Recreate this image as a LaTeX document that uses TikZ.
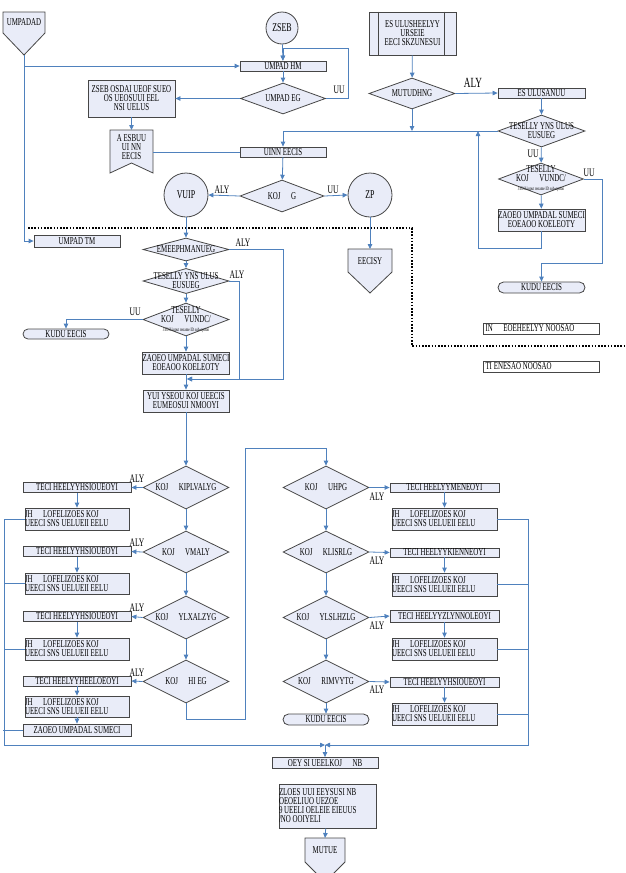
\documentclass[tikz,border=0pt]{standalone}
\usepackage{fontspec}
\setmainfont{Liberation Serif}[FakeStretch=0.66]
\usetikzlibrary{shapes.geometric,shapes.misc,arrows.meta}

\definecolor{boxfill}{RGB}{233,236,248}
\definecolor{flowblue}{RGB}{79,129,189}
\definecolor{edge}{RGB}{70,70,70}

\tikzset{
  proc/.style={draw=edge, fill=boxfill, line width=0.8pt, inner sep=0pt,
    align=center, font=\fontsize{10.5}{9}\selectfont},
  procL/.style={proc, align=flush left, text width=#1},
  decide/.style={diamond, draw=edge, fill=boxfill, line width=0.8pt, inner sep=-6pt,
    aspect=2.5, align=center, font=\fontsize{10.5}{9}\selectfont},
  term/.style={rounded rectangle, draw=edge, fill=boxfill, line width=0.8pt,
    inner sep=0pt, font=\fontsize{10.5}{9}\selectfont},
  conn/.style={circle, draw=edge, fill=boxfill, line width=0.8pt, inner sep=0pt,
    font=\fontsize{12}{10}\selectfont},
  outline/.style={draw=edge, fill=boxfill, line width=0.8pt, line join=miter},
  inside/.style={inner sep=0pt, align=center, font=\fontsize{10.5}{9}\selectfont},
  legend/.style={draw=edge, fill=white, line width=0.8pt, inner sep=2pt,
    text width=112pt, align=flush left, font=\fontsize{10.5}{9}\selectfont},
  flow/.style={->, draw=flowblue, line width=0.8pt},
  lbl/.style={inner sep=0pt, font=\fontsize{11.5}{9}\selectfont},
  dotline/.style={line width=1.3pt, dash pattern=on 1.6pt off 1.6pt},
  tiny3/.style={font=\fontsize{4}{4}\selectfont}
}

\begin{document}
\begin{tikzpicture}[x=1pt,y=-1pt,>={Triangle[length=5pt,width=4.5pt]}]
  \useasboundingbox (0,0) rectangle (625,873);

  % upper part
  \draw[outline] (3,12) -- (45,12) -- (45,33) -- (24,55) -- (3,33) -- cycle;
  \node[inside] (inA) at (24,22.5) {UMPADAD};
  \coordinate (inAtip) at (24,55);
  \node[conn, minimum size=32pt] (zseb) at (282,28) {ZSEB};
  \node[proc, minimum width=86pt, minimum height=10pt] (hm) at (283,66) {UMPAD HM};
  \node[decide, minimum width=85pt, minimum height=31pt] (eg) at (283,98.5) {UMPAD EG};
  \node[proc, minimum width=87pt, minimum height=37pt] (osda) at (131.5,98.5)
    {ZSEB OSDAI UEOF SUEO\\OS UEOSUUI EEL\\NSI UELUS};
  \draw[outline] (110,130) -- (153,130) -- (153,173) -- (131.5,163) -- (110,173) -- cycle;
  \node[inside] (doc) at (131.5,147) {A ESBUU\\UI NN\\EECIS};
  \coordinate (docTop) at (131.5,130);
  \coordinate (docSide) at (153,152);
  \node[proc, minimum width=86pt, minimum height=10pt] (uinn) at (283,152) {UINN EECIS};
  \node[decide, minimum width=84pt, minimum height=32pt] (kojg) at (282,196) {KOJ\quad G};
  \node[conn, minimum size=44pt] (vuip) at (186,195) {VUIP};
  \node[conn, minimum size=44pt] (zp) at (370,195) {ZP};
  \draw[outline] (348,249) -- (392,249) -- (392,272) -- (370,293) -- (348,272) -- cycle;
  \node[inside] (eecisy) at (370,261) {EECISY};
  \coordinate (eecisyTop) at (370,249);
  \node[lbl] (lbA) at (222,190) {ALY};
  \node[lbl] (lbB) at (333,190) {UU};
  \node[lbl] (lbC) at (339,90) {UU};

  % upper right
  \node[proc, minimum width=87pt, minimum height=43pt] (estop) at (412.5,33.5)
    {ES ULUSHEELYY\\URSEIE\\EECI SKZUNESUI};
  \draw[edge, line width=0.8pt] ([xshift=10pt]estop.north west) -- ([xshift=10pt]estop.south west)
    ([xshift=-12pt]estop.north east) -- ([xshift=-12pt]estop.south east);
  \node[decide, minimum width=86pt, minimum height=31pt] (mutud) at (412,93.5) {MUTUDHNG};
  \node[lbl, font=\fontsize{14}{11}\selectfont] (lbD) at (473,83) {ALY};
  \node[proc, minimum width=87pt, minimum height=10pt] (esanuu) at (541.5,93) {ES ULUSANUU};
  \node[decide, minimum width=87pt, minimum height=32pt] (teselR) at (541.5,131)
    {TESELLY YNS ULUS\\EUSUEG};
  \node[lbl] (lbE) at (533,154) {UU};
  \node[decide, minimum width=85pt, minimum height=32pt] (teselRR) at (541,179)
    {TESELLY\\KOJ\quad VUNDC/\\{\tiny3 ENS input rename ID sub-option}};
  \node[lbl] (lbF) at (589,173) {UU};
  \node[proc, minimum width=87pt, minimum height=22pt] (zaoeoR) at (541.5,220)
    {ZAOEO UMPADAL SUMECI\\EOEAOO KOELEOTY};
  \node[term, minimum width=87pt, minimum height=11pt] (kuduR) at (541.5,287.5) {KUDU EECIS};
  \coordinate (joinR) at (478,131);
  \node[legend] (lgA) at (541.5,328.5) {IN\quad EOEHEELYY NOOSAO};
  \node[legend] (lgB) at (541.5,366.5) {TI ENESAO NOOSAO};

  \draw[dotline] (28,228) -- (412,228) -- (412,346) -- (625,346);

  % middle left
  \node[proc, minimum width=86pt, minimum height=12pt] (umpadtm) at (77,241) {UMPAD TM};
  \node[decide, minimum width=86pt, minimum height=23pt] (emee) at (186,249.5) {EMEEPHMANUEG};
  \node[lbl] (lbG) at (243,243) {ALY};
  \node[decide, minimum width=86pt, minimum height=23pt] (tesel) at (186,281) {TESELLY YNS ULUS\\EUSUEG};
  \node[lbl] (lbH) at (237,275) {ALY};
  \node[decide, minimum width=86pt, minimum height=33pt] (teselL) at (186,319.5)
    {TESELLY\\KOJ\quad VUNDC/\\{\tiny3 ENS input rename ID sub-option}};
  \node[lbl] (lbI) at (135,312) {UU};
  \node[term, minimum width=86pt, minimum height=10pt] (kuduL) at (66,334) {KUDU EECIS};
  \node[proc, minimum width=86pt, minimum height=22pt] (zaoeoL) at (186,363)
    {ZAOEO UMPADAL SUMECI\\EOEAOO KOELEOTY};
  \node[proc, minimum width=86pt, minimum height=22pt] (yui) at (186,401)
    {YUI YSEOU KOJ UEECIS\\EUMEOSUI NMOOYI};
  \coordinate (joinL) at (187,379);

  % lower left chain
  \node[decide, minimum width=86pt, minimum height=43pt] (dA1) at (186,487.5) {KOJ\quad KIPLVALYG};
  \node[decide, minimum width=86pt, minimum height=42pt] (dA2) at (186,552) {KOJ\quad VMALY};
  \node[decide, minimum width=86pt, minimum height=43pt] (dA3) at (186,617.5) {KOJ\quad YLXALZYG};
  \node[decide, minimum width=86pt, minimum height=43pt] (dA4) at (186,681.5) {KOJ\quad HI EG};
  \node[proc, minimum width=108pt, minimum height=10pt] (tA1) at (77,487.5) {TECI HEELYYHSIOUEOYI};
  \node[proc, minimum width=108pt, minimum height=10pt] (tA2) at (77,551.5) {TECI HEELYYHSIOUEOYI};
  \node[proc, minimum width=108pt, minimum height=10pt] (tA3) at (77,616.5) {TECI HEELYYHSIOUEOYI};
  \node[proc, minimum width=108pt, minimum height=10pt] (tA4) at (77,681) {TECI HEELYYHEELOEOYI};
  \node[procL=104pt, minimum height=22pt] (jA1) at (77,519) {JH\quad LOFELIZOES KOJ\\UEECI SNS UELUEII EELU};
  \node[procL=104pt, minimum height=21pt] (jA2) at (77,583.5) {JH\quad LOFELIZOES KOJ\\UEECI SNS UELUEII EELU};
  \node[procL=104pt, minimum height=22pt] (jA3) at (77,649) {JH\quad LOFELIZOES KOJ\\UEECI SNS UELUEII EELU};
  \node[procL=104pt, minimum height=21pt] (jA4) at (77,706.5) {JH\quad LOFELIZOES KOJ\\UEECI SNS UELUEII EELU};
  \node[proc, minimum width=108pt, minimum height=12pt] (zA) at (77,730) {ZAOEO UMPADAL SUMECI};
  \node[lbl] (lbJ) at (137,479) {ALY};
  \node[lbl] (lbK) at (137,543) {ALY};
  \node[lbl] (lbL) at (137,608) {ALY};
  \node[lbl] (lbM) at (137,673) {ALY};

  % lower right chain
  \node[decide, minimum width=86pt, minimum height=43pt] (dB1) at (326,487.5) {KOJ\quad UHPG};
  \node[decide, minimum width=86pt, minimum height=42pt] (dB2) at (326,552) {KOJ\quad KLISRLG};
  \node[decide, minimum width=86pt, minimum height=43pt] (dB3) at (326,617.5) {KOJ\quad YLSLHZLG};
  \node[decide, minimum width=86pt, minimum height=43pt] (dB4) at (326,681.5) {KOJ\quad RIMVYTG};
  \node[proc, minimum width=109pt, minimum height=9pt] (tB1) at (444.5,487.5) {TECI HEELYYMENEOYI};
  \node[proc, minimum width=109pt, minimum height=9pt] (tB2) at (444.5,552.5) {TECI HEELYYKIENNEOYI};
  \node[proc, minimum width=109pt, minimum height=12pt] (tB3) at (444.5,616) {TECI HEELYYZLYNNOLEOYI};
  \node[proc, minimum width=109pt, minimum height=10pt] (tB4) at (444.5,682) {TECI HEELYYHSIOUEOYI};
  \node[procL=105pt, minimum height=22pt] (jB1) at (444.5,519) {JH\quad LOFELIZOES KOJ\\UEECI SNS UELUEII EELU};
  \node[procL=105pt, minimum height=23pt] (jB2) at (444.5,584.5) {JH\quad LOFELIZOES KOJ\\UEECI SNS UELUEII EELU};
  \node[procL=105pt, minimum height=22pt] (jB3) at (444.5,649) {JH\quad LOFELIZOES KOJ\\UEECI SNS UELUEII EELU};
  \node[procL=105pt, minimum height=22pt] (jB4) at (444.5,714) {JH\quad LOFELIZOES KOJ\\UEECI SNS UELUEII EELU};
  \node[term, minimum width=86pt, minimum height=11pt] (kuduB) at (326,719.5) {KUDU EECIS};
  \node[lbl] (lbN) at (377,497) {ALY};
  \node[lbl] (lbO) at (377,561) {ALY};
  \node[lbl] (lbP) at (377,626) {ALY};
  \node[lbl] (lbQ) at (377,690) {ALY};

  % bottom
  \coordinate (merge) at (325,745);
  \node[proc, minimum width=106pt, minimum height=11pt] (oey) at (325,763) {OEY SI UEELKOJ\quad NB};
  \node[procL=97pt, minimum height=44pt] (zloes) at (327.5,806)
    {ZLOES UUI EEYSUSI\ NB\\OEOELIUO UEZOE\\9 UEELI OELEIE EIEUUS\\/NO OOIYELI};
  \draw[outline] (305,838) -- (345,838) -- (345,862) -- (325,882) -- (305,862) -- cycle;
  \node[inside] (mutue) at (325,850) {MUTUE};
  \coordinate (mutueTop) at (325,838);

  % connectors, upper part
  \draw[flow] (zseb) -- (hm);
  \draw[flow] (inAtip) |- (umpadtm.west);
  \draw[flow] (inAtip |- hm.west) -- (hm.west);
  \draw[flow] (hm) -- (eg);
  \draw[flow] (eg.west) -- (osda.east);
  \draw[flow] (eg.east) -- ++(22,0) |- ([yshift=12pt]hm.north) -- (hm.north);
  \draw[flow] (osda) -- (docTop);
  \draw[flowblue, line width=0.8pt] (docSide) -- (uinn.west);
  \draw[flow] (uinn) -- (kojg);
  \draw[flow] (kojg.west) -- (vuip.east);
  \draw[flow] (kojg.east) -- (zp.west);
  \draw[flow] (zp) -- (eecisyTop);
  \draw[flow] (vuip) -- (emee.north);

  % connectors, upper right
  \draw[flow] (estop) -- (mutud);
  \draw[flow] (mutud.south) -- (mutud.south |- teselR.west);
  \draw[flow] (teselR.west) -| (uinn.north);
  \draw[flow] (mutud.east) -- (esanuu.west);
  \draw[flow] (esanuu) -- (teselR);
  \draw[flow] (teselR) -- (teselRR);
  \draw[flow] (teselRR) -- (zaoeoR);
  \draw[flow] (teselRR.east) -- ++(18,0) |- ([yshift=18pt]kuduR.north) -- (kuduR.north);
  \draw[flow] (zaoeoR.south) -- ++(0,17) -| (joinR);

  % connectors, middle left
  \draw[flow] (emee) -- (tesel);
  \draw[flow] (tesel) -- (teselL);
  \draw[flow] (teselL) -- (zaoeoL);
  \draw[flow] (zaoeoL) -- (yui);
  \draw[flow] (emee.east) -- ++(54,0) |- (joinL);
  \draw[flow] (tesel.east) -- ++(10,0) |- (joinL);
  \draw[flow] (teselL.west) -| (kuduL.north);
  \draw[flow] (yui) -- (dA1);

  % connectors, lower chains
  \foreach \i in {1,2,3,4} {
    \draw[flow] (dA\i.west) -- (tA\i.east);
    \draw[flow] (tA\i) -- (jA\i);
    \draw[flow] (dB\i.east) -- (tB\i.west);
    \draw[flow] (tB\i) -- (jB\i);
  }
  \foreach \i/\j in {1/2,2/3,3/4} {
    \draw[flow] (dA\i) -- (dA\j);
    \draw[flow] (dB\i) -- (dB\j);
  }
  \draw[flow] (jA4) -- (zA);
  \draw[flow] (dB4) -- (kuduB);
  \draw[flow] (dA4.south) -- ++(0,16) -- ++(59,0) |- ([yshift=17pt]dB1.north) -- (dB1.north);
  \draw[flow] (jA1.west) -- ++(-20,0) |- (merge);
  \foreach \n in {jA2,jA3,zA} {
    \draw[flowblue, line width=0.8pt] (\n.west) -- ++(-20,0);
  }
  \draw[flow] (jB1.east) -- ++(31,0) |- (merge);
  \foreach \n in {jB2,jB3,jB4} {
    \draw[flowblue, line width=0.8pt] (\n.east) -- ++(31,0);
  }
  \draw[flow] (merge) -- (oey);
  \draw[flow] (zloes) -- (mutueTop);
\end{tikzpicture}
\end{document}
